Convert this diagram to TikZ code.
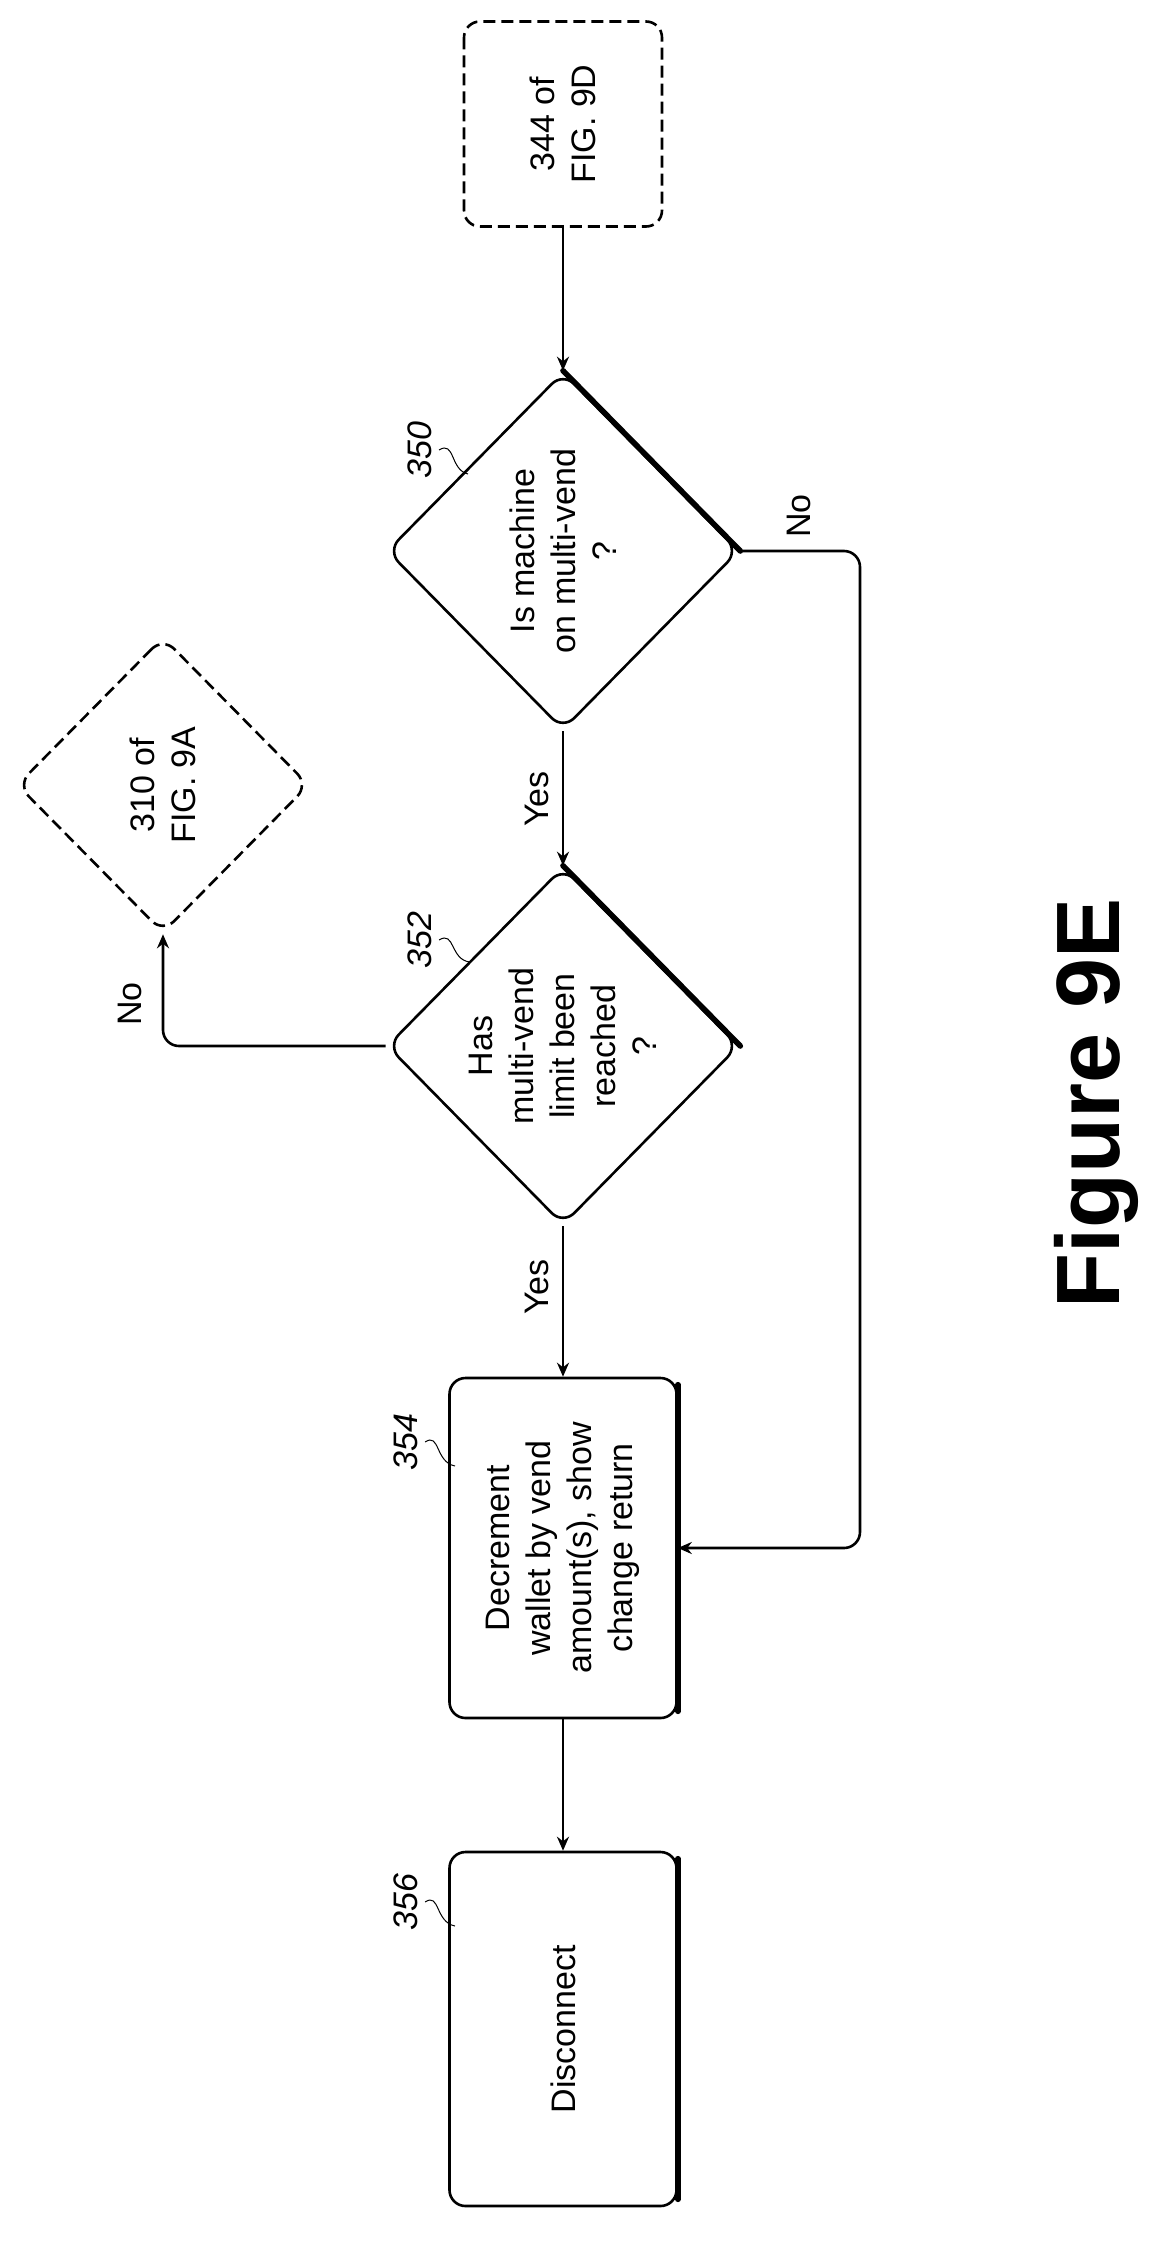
\documentclass[tikz,border=0pt]{standalone}
\usepackage{fontspec}
\setmainfont{Liberation Sans}
\usetikzlibrary{shapes.geometric,arrows.meta}

\tikzset{
  flow/.style={draw,line width=1.3pt,rotate=90,align=center,inner sep=0pt,
    font=\fontsize{17}{20.5}\selectfont},
  box/.style={flow,rectangle,rounded corners=8pt,minimum height=113.5pt},
  link/.style={flow,rectangle,rounded corners=8pt,dash pattern=on 6pt off 3pt},
  ask/.style={flow,diamond,rounded corners=8pt,minimum width=179pt,minimum height=176pt},
  tag/.style={rotate=90,font=\fontsize{17}{20}\selectfont\itshape},
  note/.style={rotate=90,font=\fontsize{17}{20}\selectfont},
  lead/.style={line width=0.5pt},
  edge/.style={line width=1.3pt,-{Stealth[length=7pt,width=6pt]}},
  heavy/.style={line width=2.8pt,line cap=round}
}

\begin{document}
\begin{tikzpicture}[x=0.5pt,y=-0.5pt]
\useasboundingbox (0,0) rectangle (1174,2242);
%shapes
\node[link,minimum width=102.5pt,minimum height=99pt] (n344) at (563,124) {344 of\\FIG. 9D};
\node[ask] (n350) at (563,551) {Is machine\\on multi-vend\\?};
\node[ask] (n352) at (563,1046) {Has\\multi-vend\\limit been\\reached\\?};
\node[link,diamond,minimum width=148pt,minimum height=146pt] (n310) at (163,785) {310 of\\FIG. 9A};
\node[box,minimum width=170pt] (n354) at (563,1548) {Decrement\\wallet by vend\\amount(s), show\\change return};
\node[box,minimum width=177pt] (n356) at (563,2029) {Disconnect};
%heavy edges
\draw[heavy] (n350.east) -- (n350.south);
\draw[heavy] (n352.east) -- (n352.south);
\draw[heavy] ([yshift=-4pt]n354.south east) -- ([yshift=4pt]n354.south west);
\draw[heavy] ([yshift=-4pt]n356.south east) -- ([yshift=4pt]n356.south west);
%connectors
\draw[edge] (n344.west) -- (n350.east);
\draw[edge] (n350.west) -- (n352.east);
\draw[edge] (n352.west) -- (n354.east);
\draw[edge] (n354.west) -- (n356.east);
\draw[edge,rounded corners=8pt] (n350.south) -- (860,551) |- (n354.south);
\draw[edge,rounded corners=8pt] (n352.north) -| (n310.west);
%labels
\node[note] (yes1) at (537,799) {Yes};
\node[note] (yes2) at (537,1287) {Yes};
\node[note] (no1) at (799,516) {No};
\node[note] (no2) at (130,1004) {No};
\node[tag] (t350) at (420,450) {350};
\node[tag] (t352) at (420,940) {352};
\node[tag] (t354) at (406,1442) {354};
\node[tag] (t356) at (406,1902) {356};
\draw[lead] (t350.south) .. controls (455,440) and (450,470) .. (468,474);
\draw[lead] (t352.south) .. controls (455,930) and (450,960) .. (470,962);
\draw[lead] (t354.south) .. controls (440,1432) and (435,1462) .. (455,1466);
\draw[lead] (t356.south) .. controls (440,1892) and (435,1922) .. (455,1926);
\node[rotate=90,font=\fontsize{45}{50}\selectfont\bfseries] (fig) at (1096,1103) {Figure 9E};
\end{tikzpicture}
\end{document}
